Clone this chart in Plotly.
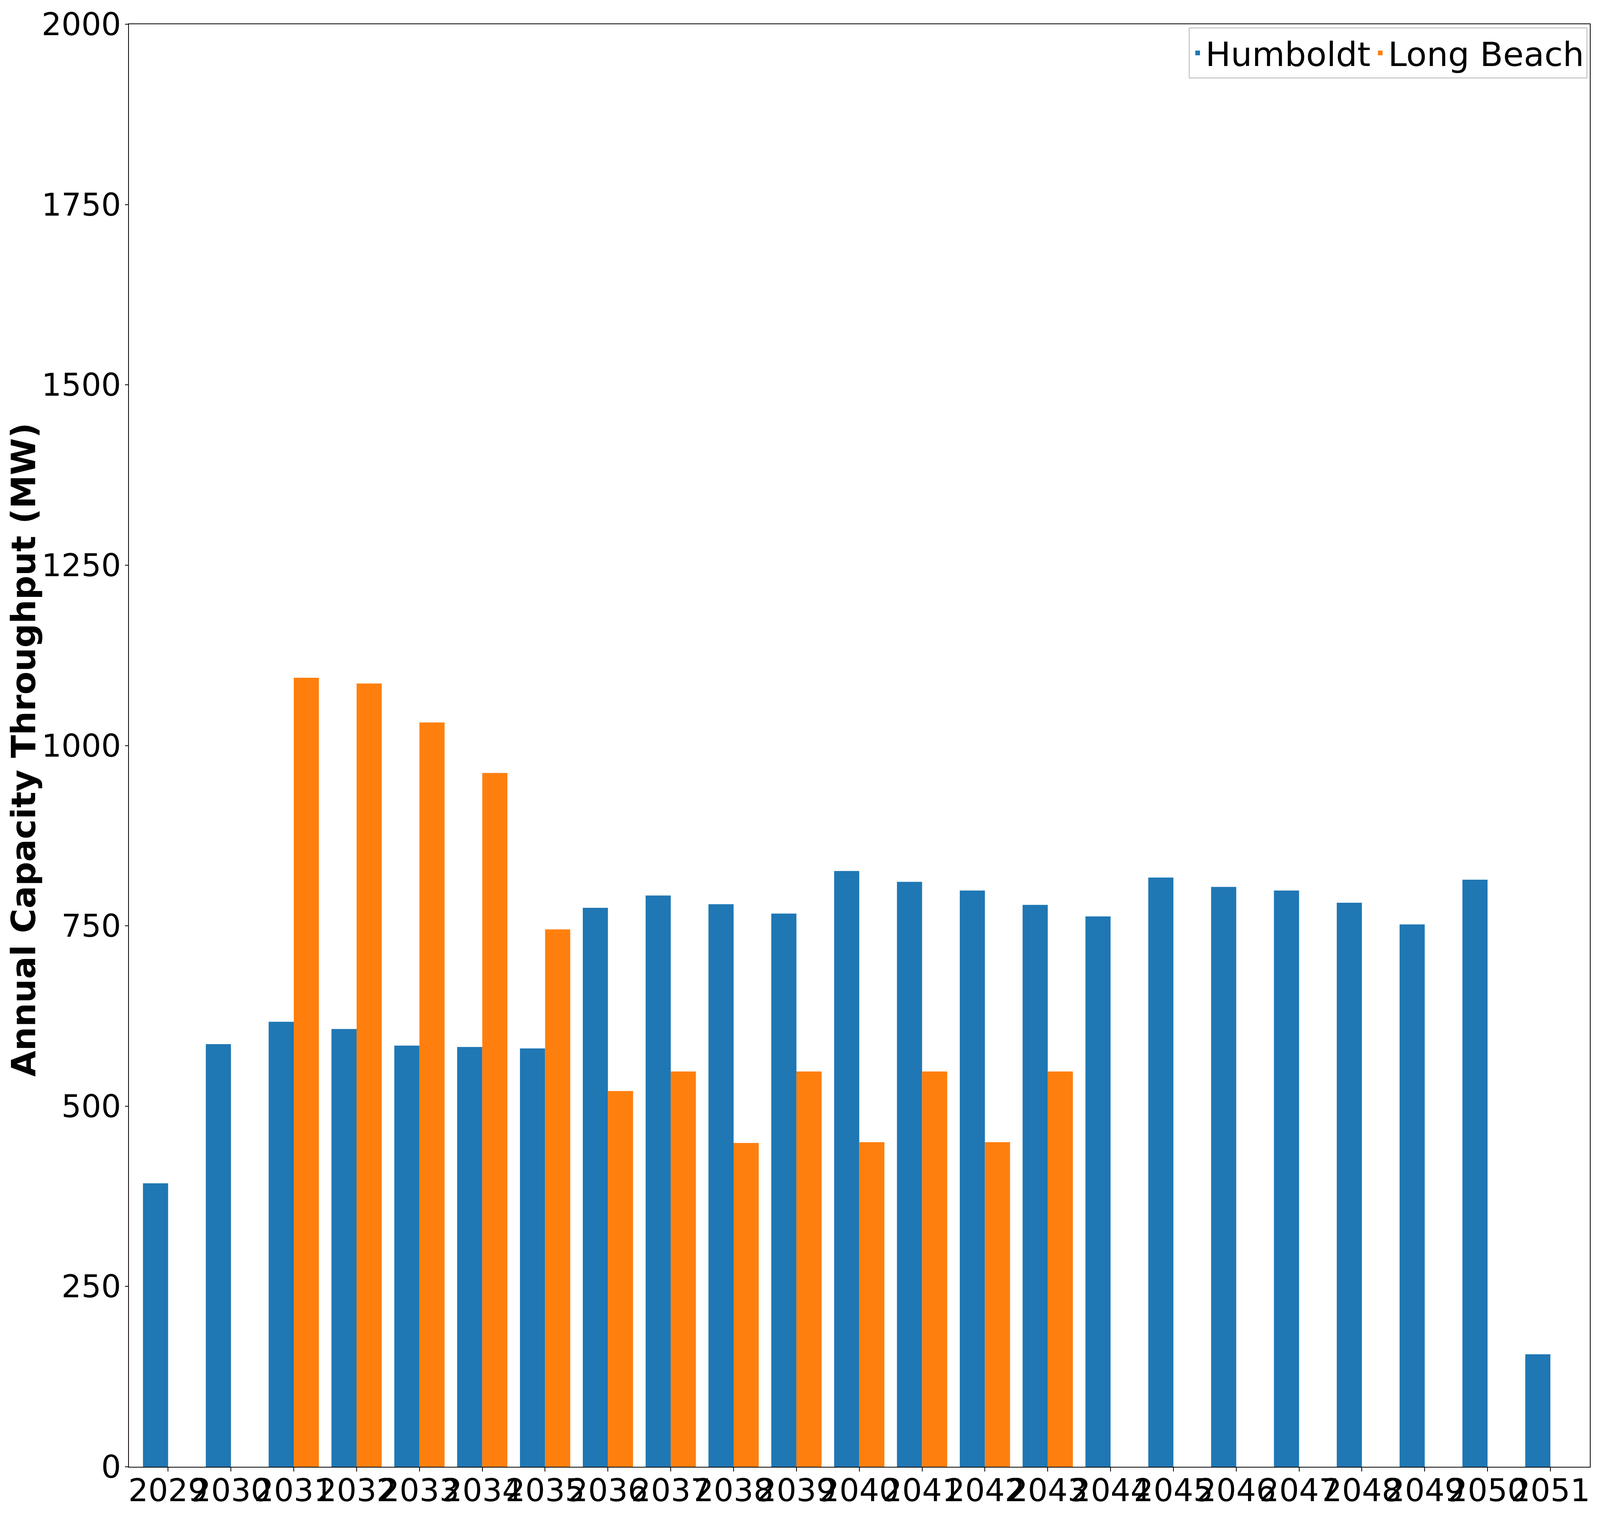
import plotly.graph_objects as go

years = list(range(2029, 2052))
humboldt = [393, 586, 617, 607, 584, 582, 580, 775, 792, 780, 767, 826, 811, 799, 779,
            763, 817, 804, 799, 782, 752, 814, 156]
long_beach = [None, None, 1094, 1086, 1032, 962, 745, 521, 548, 449, 548, 450, 548, 450, 548,
              None, None, None, None, None, None, None, None]
y_ticks = [0, 250, 500, 750, 1000, 1250, 1500, 1750, 2000]

# the browser viewport is 4096 px wide, so the figure is sized to fit inside it
fig = go.Figure()

fig.add_trace(go.Bar(x=years, y=humboldt, name='Humboldt', marker=dict(color='#1f77b4', line_width=0)))
fig.add_trace(go.Bar(x=years, y=long_beach, name='Long Beach', marker=dict(color='#ff7f0e', line_width=0)))

fig.update_layout(
    width=4080, height=3888,
    barmode='group', bargap=0.2, bargroupgap=0,
    plot_bgcolor='#FFF', paper_bgcolor='#FFF',
    margin=dict(l=322, r=18, t=54, b=141),
    font=dict(family='DejaVu Sans', size=80, color='black'),
    legend=dict(orientation='h', x=0.9984, xanchor='right', y=0.9978, yanchor='top',
                bordercolor='#cccccc', borderwidth=3, bgcolor='rgba(255,255,255,0.8)',
                font=dict(size=86), itemwidth=30, tracegroupgap=0),
)

# y title as an annotation so it sits left of the tick labels without moving the plot area
fig.add_annotation(text='<b>Annual Capacity Throughput (MW)</b>', textangle=-90,
                   xref='paper', yref='paper', x=0, y=0.497, xshift=-270,
                   xanchor='center', yanchor='middle', showarrow=False,
                   font=dict(size=86, color='black'))

fig.update_xaxes(tickvals=years, ticktext=[str(y) for y in years], tickangle=0,
                 range=[2028.376, 2051.628], showgrid=False, zeroline=False, automargin=False,
                 showline=True, linecolor='black', linewidth=2, mirror=True,
                 ticks='outside', ticklen=10, tickwidth=2, tickcolor='black',
                 tickfont=dict(size=80), ticklabeloverflow='allow', ticklabelstandoff=-20)
fig.update_yaxes(tickvals=y_ticks, range=[0, 2000], showgrid=False, zeroline=False, automargin=False,
                 showline=True, linecolor='black', linewidth=2, mirror=True,
                 ticks='outside', ticklen=8, tickwidth=2, tickcolor='black',
                 tickfont=dict(size=80), ticklabeloverflow='allow', ticklabelstandoff=-6)

fig.write_html('out.html')
